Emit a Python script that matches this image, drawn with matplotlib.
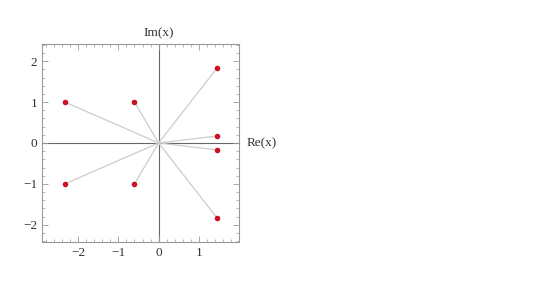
import matplotlib
matplotlib.use("Agg")
import matplotlib.pyplot as plt
from matplotlib.ticker import MultipleLocator

re_vals = [-2.33, -0.6, 1.46, 1.46, 1.46, 1.46, -0.6, -2.33]
im_vals = [1.0, 1.0, 1.84, 0.17, -0.17, -1.84, -1.0, -1.0]
x_ticks = [-2, -1, 0, 1]
y_ticks = [-2, -1, 0, 1, 2]

plt.rcParams['font.family'] = ['Liberation Serif', 'DejaVu Serif']

fig = plt.figure(figsize=(5.4, 2.87), dpi=100)
ax = fig.add_axes([0.0778, 0.1568, 0.3648, 0.690])
ax.set_xlim(-2.9, 2.0)
ax.set_ylim(-2.42, 2.42)

ax.axhline(0, color='#666666', lw=0.8, zorder=1)
ax.axvline(0, color='#666666', lw=0.8, zorder=1)
for x, y in zip(re_vals, im_vals):
    ax.plot([0, x], [0, y], color='#cccccc', lw=0.9, zorder=2)
ax.scatter(re_vals, im_vals, s=16, color='#cc1122', zorder=3, linewidths=0)

ax.set_xticks(x_ticks)
ax.set_yticks(y_ticks)
ax.set_xticklabels(['\u2212' + str(-t) if t < 0 else str(t) for t in x_ticks])
ax.set_yticklabels(['\u2212' + str(-t) if t < 0 else str(t) for t in y_ticks])
ax.xaxis.set_minor_locator(MultipleLocator(0.2))
ax.yaxis.set_minor_locator(MultipleLocator(0.2))
ax.tick_params(which='both', direction='in', top=True, right=True, color='#999999',
               labelsize=9.5, labelcolor='#333333')
ax.tick_params(which='major', length=4, width=0.6)
ax.tick_params(which='minor', length=2, width=0.5)
for s in ax.spines.values():
    s.set_color('#999999')
    s.set_linewidth(0.8)

ax.text(0, 1.025, 'Im(x)', transform=ax.get_xaxis_transform(), ha='center', va='bottom',
        fontsize=9.5, color='#333333')
ax.text(1.04, 0, 'Re(x)', transform=ax.get_yaxis_transform(), ha='left', va='center',
        fontsize=9.5, color='#333333')

fig.savefig('out.png', dpi=100)
